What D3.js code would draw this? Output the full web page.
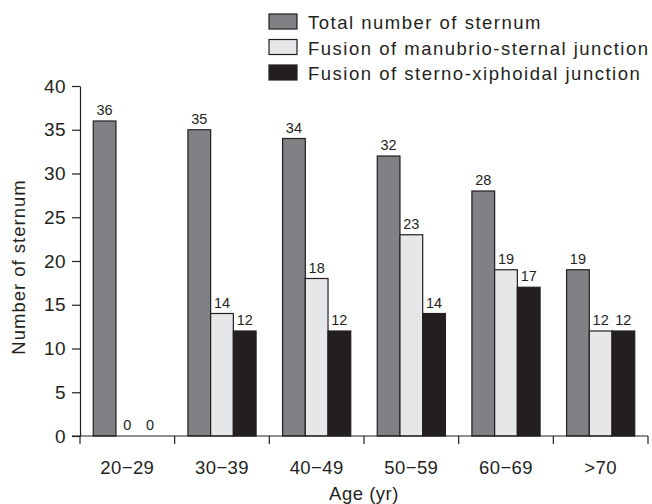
<!DOCTYPE html>
<html>
<head>
<meta charset="utf-8">
<script src="https://cdn.jsdelivr.net/npm/d3@7"></script>
<style>
  body { margin: 0; background: #fff; }
  text { font-family: "Liberation Sans", Arial, sans-serif; fill: #231f20; }
</style>
</head>
<body>
<div id="chart"></div>
<script>
// data
const ageGroups = ["20\u221229", "30\u221239", "40\u221249", "50\u221259", "60\u221269", ">70"];
const seriesNames = ["Total number of sternum", "Fusion of manubrio-sternal junction", "Fusion of sterno-xiphoidal junction"];
const totalSternum = [36, 35, 34, 32, 28, 19];
const manubrioSternal = [0, 14, 18, 23, 19, 12];
const sternoXiphoidal = [0, 12, 12, 14, 17, 12];
const yTicks = [0, 5, 10, 15, 20, 25, 30, 35, 40];
const colors = ["#808184", "#e6e7e8", "#231f20"];

const width = 652;
const height = 504;
const margin = { top: 86, right: 4, bottom: 68, left: 80 };
const ink = "#231f20";

const svg = d3.select("#chart")
  .append("svg")
    .attr("width", width)
    .attr("height", height);

const x = d3.scaleBand()
  .domain(ageGroups)
  .range([margin.left, width - margin.right]);

const y = d3.scaleLinear()
  .domain([0, 40])
  .range([height - margin.bottom, margin.top]);

const groupPad = x.bandwidth() * 0.14;
const xSub = d3.scaleBand()
  .domain(d3.range(seriesNames.length))
  .range([groupPad, x.bandwidth() - groupPad]);

const rows = ageGroups.map((g, i) => ({
  group: g,
  values: [totalSternum[i], manubrioSternal[i], sternoXiphoidal[i]]
}));

// bars
const groups = svg.append("g")
  .selectAll("g")
  .data(rows)
  .join("g")
    .attr("transform", d => `translate(${x(d.group)},0)`);

groups.selectAll("rect")
  .data(d => d.values.map((v, k) => ({ v, k })).filter(e => e.v > 0))
  .join("rect")
    .attr("x", e => xSub(e.k))
    .attr("y", e => y(e.v))
    .attr("width", xSub.bandwidth())
    .attr("height", e => y(0) - y(e.v))
    .attr("fill", e => colors[e.k])
    .attr("stroke", ink)
    .attr("stroke-width", 1.2);

// value labels
groups.selectAll("text")
  .data(d => d.values.map((v, k) => ({ v, k })))
  .join("text")
    .attr("x", e => xSub(e.k) + xSub.bandwidth() / 2)
    .attr("y", e => y(e.v) - 6)
    .attr("text-anchor", "middle")
    .style("font-size", "14.5px")
    .text(e => e.v);

// y axis
const yAxis = svg.append("g")
  .attr("transform", `translate(${margin.left},0)`)
  .call(d3.axisLeft(y).tickValues(yTicks).tickSize(8).tickSizeOuter(0));
yAxis.selectAll("path, line").attr("stroke", ink).attr("stroke-width", 1.2);
yAxis.selectAll("text")
  .attr("x", -14)
  .style("font-size", "19px")
  .style("letter-spacing", "0.4px")
  .style("font-family", "Liberation Sans, Arial, sans-serif")
  .attr("fill", ink);

// x axis: line and boundary ticks
const xAxis = svg.append("g");
xAxis.append("line")
  .attr("x1", margin.left - 8)
  .attr("x2", width - margin.right)
  .attr("y1", y(0))
  .attr("y2", y(0))
  .attr("stroke", ink)
  .attr("stroke-width", 1.2);
xAxis.selectAll(".bound")
  .data(ageGroups.concat([null]))
  .join("line")
    .attr("class", "bound")
    .attr("x1", (d, i) => margin.left + i * x.step())
    .attr("x2", (d, i) => margin.left + i * x.step())
    .attr("y1", y(0))
    .attr("y2", y(0) + 8)
    .attr("stroke", ink)
    .attr("stroke-width", 1.2);
xAxis.selectAll(".lab")
  .data(ageGroups)
  .join("text")
    .attr("class", "lab")
    .attr("x", d => x(d) + x.bandwidth() / 2)
    .attr("y", y(0) + 38)
    .attr("text-anchor", "middle")
    .style("font-size", "18.5px")
    .style("letter-spacing", "0.4px")
    .text(d => d);

// axis titles
svg.append("text")
  .attr("x", margin.left + (width - margin.right - margin.left) / 2)
  .attr("y", 500)
  .attr("text-anchor", "middle")
  .style("font-size", "18.5px")
  .style("letter-spacing", "0.5px")
  .text("Age (yr)");

svg.append("text")
  .attr("transform", `translate(25,267) rotate(-90)`)
  .attr("text-anchor", "middle")
  .style("font-size", "18.5px")
  .style("letter-spacing", "1px")
  .text("Number of sternum");

// legend
const legend = svg.append("g")
  .attr("transform", "translate(269,14)");
const item = legend.selectAll("g")
  .data(seriesNames)
  .join("g")
    .attr("transform", (d, i) => `translate(0,${i * 25.5})`);
item.append("rect")
  .attr("width", 28)
  .attr("height", 15)
  .attr("fill", (d, i) => colors[i])
  .attr("stroke", ink)
  .attr("stroke-width", 1.2);
item.append("text")
  .attr("x", 39)
  .attr("y", 15)
  .style("font-size", "18.5px")
  .style("letter-spacing", "1.5px")
  .text(d => d);
</script>
</body>
</html>
